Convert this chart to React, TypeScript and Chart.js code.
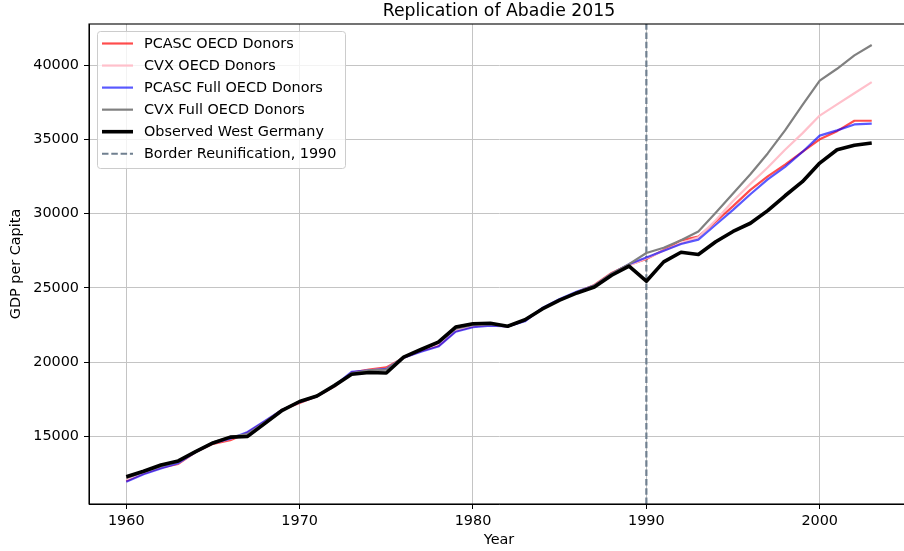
import React, { useEffect, useRef } from 'react';
import { Chart, registerables } from 'chart.js';

Chart.register(...registerables);

const FONT = '"DejaVu Sans", "Liberation Sans", sans-serif';

const TITLE = 'Replication of Abadie 2015';
const X_LABEL = 'Year';
const Y_LABEL = 'GDP per Capita';

const years = [
  1960, 1961, 1962, 1963, 1964, 1965, 1966, 1967, 1968, 1969,
  1970, 1971, 1972, 1973, 1974, 1975, 1976, 1977, 1978, 1979,
  1980, 1981, 1982, 1983, 1984, 1985, 1986, 1987, 1988, 1989,
  1990, 1991, 1992, 1993, 1994, 1995, 1996, 1997, 1998, 1999,
  2000, 2001, 2002, 2003,
];

const pcascOecd = [
  12000, 12500, 12900, 13150, 13950, 14500, 14750, 15250, 16000, 16800,
  17250, 17700, 18350, 19300, 19500, 19650, 20300, 20750, 21100, 22100,
  22400, 22500, 22400, 22800, 23600, 24200, 24700, 25200, 26000, 26550,
  26950, 27550, 28200, 28450, 29450, 30500, 31600, 32500, 33300, 34150,
  35000, 35550, 36250, 36250,
];

const cvxOecd = [
  12100, 12550, 12950, 13200, 13950, 14550, 14850, 15200, 15950, 16800,
  17300, 17700, 18350, 19250, 19450, 19550, 20300, 20800, 21200, 22150,
  22450, 22500, 22400, 22800, 23600, 24200, 24700, 25150, 25950, 26500,
  27000, 27500, 28000, 28400, 29550, 30850, 32000, 33100, 34300, 35400,
  36600, 37350, 38100, 38850,
];

const pcascFull = [
  11950, 12450, 12850, 13200, 13950, 14550, 14850, 15300, 16050, 16800,
  17300, 17700, 18400, 19350, 19450, 19550, 20300, 20700, 21050, 22050,
  22350, 22450, 22400, 22750, 23650, 24250, 24750, 25150, 25950, 26600,
  27050, 27500, 27950, 28250, 29250, 30250, 31300, 32300, 33150, 34150,
  35250, 35600, 36000, 36050,
];

const cvxFull = [
  12200, 12600, 13000, 13300, 14000, 14600, 14950, 15150, 15950, 16800,
  17350, 17750, 18400, 19250, 19450, 19500, 20350, 20850, 21300, 22250,
  22500, 22550, 22400, 22850, 23600, 24200, 24700, 25150, 25950, 26600,
  27350, 27700, 28200, 28800, 30050, 31350, 32650, 34050, 35600, 37300,
  38950, 39750, 40650, 41350,
];

const observed = [
  12290, 12660, 13080, 13350, 13980, 14560, 14950, 15000, 15880, 16760,
  17350, 17720, 18420, 19180, 19300, 19270, 20340, 20850, 21350, 22360,
  22580, 22620, 22420, 22850, 23580, 24170, 24660, 25060, 25850, 26460,
  25450, 26750, 27400, 27250, 28100, 28800, 29350, 30200, 31200, 32150,
  33400, 34300, 34600, 34750,
];

const reunificationYear = 1990;

const xTicks = [1960, 1970, 1980, 1990, 2000];
const yTicks = [15000, 20000, 25000, 30000, 35000, 40000];

const X_MIN = 1957.85;
const X_MAX = 2005.15;
const Y_MIN = 10451;
const Y_MAX = 42763;

const SERIES = [
  { label: 'PCASC OECD Donors', values: pcascOecd, color: 'rgba(255,0,0,0.7)', width: 2.2, order: 4 },
  { label: 'CVX OECD Donors', values: cvxOecd, color: '#ffc0cb', width: 2.2, order: 3 },
  { label: 'PCASC Full OECD Donors', values: pcascFull, color: 'rgba(0,0,255,0.65)', width: 2.2, order: 2 },
  { label: 'CVX Full OECD Donors', values: cvxFull, color: '#808080', width: 2.2, order: 1 },
  { label: 'Observed West Germany', values: observed, color: '#000000', width: 3.6, order: 0 },
];
const VLINE = { label: 'Border Reunification, 1990', color: '#708090', width: 2.2, dash: [6.5, 2.8] };

const decor = {
  id: 'decor',
  afterDraw(chart: any) {
    const { ctx, chartArea: ca } = chart;
    ctx.save();
    // spines
    ctx.strokeStyle = '#000';
    ctx.lineWidth = 1.1;
    ctx.strokeRect(ca.left, ca.top, ca.right - ca.left, ca.bottom - ca.top);
    // title
    ctx.fillStyle = '#000';
    ctx.font = `17.3px ${FONT}`;
    ctx.textAlign = 'center';
    ctx.textBaseline = 'alphabetic';
    ctx.fillText(TITLE, (ca.left + ca.right) / 2, 15.5);
    // legend
    const bx = 97.5, by = 31.5, bw = 248, bh = 137;
    ctx.beginPath();
    (ctx as any).roundRect(bx, by, bw, bh, 3);
    ctx.fillStyle = 'rgba(255,255,255,0.8)';
    ctx.fill();
    ctx.strokeStyle = '#cccccc';
    ctx.lineWidth = 1;
    ctx.stroke();
    const entries = [
      ...SERIES.map((s) => ({ label: s.label, color: s.color, width: s.width, dash: [] as number[] })),
      { label: VLINE.label, color: VLINE.color, width: VLINE.width, dash: VLINE.dash },
    ];
    ctx.font = `14.4px ${FONT}`;
    ctx.textAlign = 'left';
    ctx.textBaseline = 'middle';
    entries.forEach((e, i) => {
      const y = 43.5 + i * 22.05;
      ctx.beginPath();
      ctx.setLineDash(e.dash);
      ctx.strokeStyle = e.color;
      ctx.lineWidth = e.width;
      ctx.lineCap = 'butt';
      ctx.moveTo(102, y);
      ctx.lineTo(133, y);
      ctx.stroke();
      ctx.setLineDash([]);
      ctx.fillStyle = '#000';
      ctx.fillText(e.label, 144, y + 0.5);
    });
    ctx.restore();
  },
};

export default function App() {
  const ref = useRef<HTMLCanvasElement>(null);
  useEffect(() => {
    document.body.style.margin = '0';
    const pts = (arr: number[]) => years.map((x, i) => ({ x, y: arr[i] }));
    const datasets: any[] = SERIES.map((s) => ({
      label: s.label,
      data: pts(s.values),
      borderColor: s.color,
      backgroundColor: s.color,
      borderWidth: s.width,
      order: s.order,
      borderJoinStyle: 'round',
      fill: false,
    }));
    datasets.push({
      label: VLINE.label,
      data: [
        { x: reunificationYear, y: Y_MIN },
        { x: reunificationYear, y: Y_MAX },
      ],
      borderColor: VLINE.color,
      borderWidth: VLINE.width,
      borderDash: VLINE.dash,
      order: 5,
      fill: false,
    });
    const tickFont = { family: FONT, size: 14.4 };
    const chart = new Chart(ref.current as HTMLCanvasElement, {
      type: 'line',
      data: { datasets },
      options: {
        animation: false,
        responsive: false,
        elements: { point: { radius: 0 }, line: { tension: 0 } },
        layout: { padding: { top: 24, right: 21, left: 0, bottom: 0 } },
        plugins: {
          legend: { display: false },
          title: { display: false },
          tooltip: { enabled: false },
        },
        scales: {
          x: {
            type: 'linear',
            min: X_MIN,
            max: X_MAX,
            afterBuildTicks: (s: any) => {
              s.ticks = xTicks.map((v) => ({ value: v }));
            },
            afterFit: (s: any) => {
              s.height = 47;
            },
            ticks: {
              callback: (v: any) => String(v),
              font: tickFont,
              color: '#000',
              padding: 4,
              maxRotation: 0,
              autoSkip: false,
            },
            grid: { color: '#c4c4c4', lineWidth: 1, tickLength: 5, tickColor: '#000' },
            border: { display: true, color: '#000', width: 1 },
            title: {
              display: true,
              text: X_LABEL,
              font: tickFont,
              color: '#000',
              padding: { top: 0, bottom: 2 },
            },
          },
          y: {
            type: 'linear',
            min: Y_MIN,
            max: Y_MAX,
            afterBuildTicks: (s: any) => {
              s.ticks = yTicks.map((v) => ({ value: v }));
            },
            afterFit: (s: any) => {
              s.width = 89;
            },
            ticks: {
              callback: (v: any) => String(v),
              font: tickFont,
              color: '#000',
              padding: 5,
              autoSkip: false,
            },
            grid: { color: '#c4c4c4', lineWidth: 1, tickLength: 5, tickColor: '#000' },
            border: { display: true, color: '#000', width: 1 },
            title: {
              display: true,
              text: Y_LABEL,
              font: tickFont,
              color: '#000',
              padding: { top: 8, bottom: 0 },
            },
          },
        },
      } as any,
      plugins: [decor],
    });
    return () => chart.destroy();
  }, []);
  return (
    <div style={{ width: 904, height: 551, overflow: 'hidden' }}>
      <canvas ref={ref} width={930} height={551} style={{ display: 'block' }} />
    </div>
  );
}
